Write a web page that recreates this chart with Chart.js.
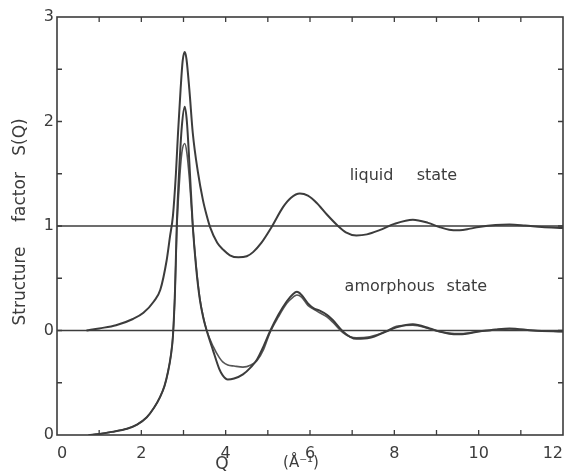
<!DOCTYPE html>
<html>
<head>
<meta charset="utf-8">
<script src="https://cdn.jsdelivr.net/npm/chart.js@4.4.1/dist/chart.umd.min.js"></script>
<style>
  html, body { margin: 0; padding: 0; background: #fff; }
  #wrap { width: 575px; height: 474px; }
</style>
</head>
<body>
<div id="wrap"><canvas id="sq"></canvas></div>
<script>
// S(Q) curves; liquid is shifted up by one unit on the plot
const liquidQ = [0.7, 1.0, 1.4, 1.8, 2.05, 2.3, 2.45, 2.6, 2.68, 2.75, 2.82, 2.87, 2.93, 2.98, 3.03, 3.07, 3.14, 3.22, 3.34, 3.46, 3.55, 3.63, 3.8, 3.95, 4.1, 4.3, 4.5, 4.65, 4.85, 5.09, 5.36, 5.55, 5.76, 5.95, 6.16, 6.4, 6.64, 6.85, 7.1, 7.35, 7.65, 8.0, 8.44, 8.8, 9.07, 9.3, 9.55, 9.8, 10.0, 10.4, 10.73, 11.1, 11.5, 12.0]
const liquidS = [1.0, 1.02, 1.05, 1.11, 1.17, 1.28, 1.39, 1.67, 1.9, 2.1, 2.5, 2.89, 3.3, 3.58, 3.665, 3.6, 3.3, 2.89, 2.52, 2.25, 2.1, 1.99, 1.84, 1.77, 1.72, 1.7, 1.71, 1.75, 1.84, 1.99, 2.18, 2.27, 2.31, 2.29, 2.22, 2.11, 2.01, 1.94, 1.91, 1.92, 1.96, 2.02, 2.06, 2.03, 1.99, 1.965, 1.96, 1.975, 1.99, 2.01, 2.015, 2.005, 1.99, 1.98]

const amorphQ = [0.75, 1.0, 1.3, 1.66, 1.9, 2.13, 2.3, 2.44, 2.55, 2.63, 2.7, 2.75, 2.8, 2.84, 2.9, 2.96, 3.03, 3.08, 3.14, 3.22, 3.3, 3.39, 3.47, 3.55, 3.7, 3.85, 3.93, 4.05, 4.2, 4.41, 4.6, 4.74, 4.9, 5.05, 5.25, 5.45, 5.6, 5.69, 5.8, 5.95, 6.1, 6.23, 6.4, 6.54, 6.78, 6.95, 7.1, 7.42, 7.8, 8.05, 8.44, 8.84, 9.07, 9.3, 9.55, 10.0, 10.4, 10.73, 11.3, 12.0]
const amorphS1 = [0.0, 0.01, 0.03, 0.06, 0.1, 0.17, 0.26, 0.36, 0.47, 0.6, 0.76, 0.95, 1.4, 2.0, 2.55, 2.95, 3.14, 3.0, 2.6, 2.0, 1.6, 1.29, 1.12, 1.0, 0.81, 0.63, 0.57, 0.53, 0.54, 0.58, 0.65, 0.72, 0.85, 0.99, 1.15, 1.28, 1.35, 1.37, 1.34, 1.26, 1.21, 1.19, 1.15, 1.1, 0.99, 0.94, 0.92, 0.93, 0.99, 1.03, 1.06, 1.02, 0.99, 0.97, 0.965, 0.99, 1.01, 1.02, 1.0, 0.99]
const amorphS2 = [0.0, 0.01, 0.03, 0.06, 0.1, 0.17, 0.26, 0.36, 0.47, 0.6, 0.76, 0.95, 1.38, 1.95, 2.4, 2.7, 2.79, 2.7, 2.45, 2.0, 1.62, 1.3, 1.13, 1.0, 0.85, 0.74, 0.7, 0.67, 0.66, 0.65, 0.67, 0.71, 0.82, 0.98, 1.13, 1.26, 1.32, 1.34, 1.32, 1.24, 1.2, 1.17, 1.13, 1.08, 0.98, 0.94, 0.93, 0.94, 0.99, 1.04, 1.05, 1.015, 0.99, 0.975, 0.97, 0.99, 1.005, 1.015, 1.0, 0.99]

const baseLines = [1, 2]
const yTickText = ['0', '0', '1', '2', '3']
const inkColor = '#3c3c3c'
const fontName = "'DejaVu Sans', sans-serif"

function pts(xs, ys) {
    return xs.map((x, i) => ({ x: x, y: ys[i] }))
}

// frame, inward ticks on all four sides, and the text inside the plot
const framePlugin = {
    id: 'frame',
    afterDatasetsDraw(chart) {
        const { ctx, chartArea: a, scales: { x, y } } = chart
        ctx.save()
        ctx.strokeStyle = inkColor
        ctx.lineWidth = 1.6
        ctx.strokeRect(a.left, a.top, a.right - a.left, a.bottom - a.top)
        ctx.lineWidth = 1.3
        ctx.beginPath()
        for (let q = 1; q < 12; q++) {
            let px = x.getPixelForValue(q)
            ctx.moveTo(px, a.bottom); ctx.lineTo(px, a.bottom - 5)
            ctx.moveTo(px, a.top); ctx.lineTo(px, a.top + 5)
        }
        for (let v = 0.5; v < 4; v += 0.5) {
            let py = y.getPixelForValue(v)
            ctx.moveTo(a.left, py); ctx.lineTo(a.left + 5, py)
            ctx.moveTo(a.right, py); ctx.lineTo(a.right - 5, py)
        }
        ctx.stroke()

        ctx.fillStyle = inkColor
        ctx.font = '16px ' + fontName
        ctx.textBaseline = 'middle'
        ctx.fillText('liquid', x.getPixelForValue(6.94), y.getPixelForValue(2.48))
        ctx.fillText('state', x.getPixelForValue(8.53), y.getPixelForValue(2.48))
        ctx.fillText('amorphous', x.getPixelForValue(6.82), y.getPixelForValue(1.42))
        ctx.fillText('state', x.getPixelForValue(9.24), y.getPixelForValue(1.42))

        // axis titles
        ctx.textAlign = 'center'
        ctx.font = '17px ' + fontName
        ctx.fillText('Q', 222, 465)
        ctx.font = '15px ' + fontName
        ctx.fillText('(Å⁻¹)', 301, 463)
        ctx.font = '17px ' + fontName
        ctx.translate(21, 0)
        ctx.rotate(-Math.PI / 2)
        ctx.fillText('Structure', -286, 0)
        ctx.fillText('factor', -197, 0)
        ctx.fillText('S(Q)', -137, 0)
        ctx.restore()
    }
}

const lineStyle = {
    type: 'line',
    pointRadius: 0,
    borderColor: inkColor,
    borderWidth: 2,
    fill: false,
    cubicInterpolationMode: 'monotone'
}

const datasets = [
    Object.assign({ data: pts(liquidQ, liquidS) }, lineStyle),
    Object.assign({ data: pts(amorphQ, amorphS1) }, lineStyle),
    Object.assign({ data: pts(amorphQ, amorphS2) }, lineStyle, { borderWidth: 1.6, borderColor: '#555' })
]
baseLines.forEach(b => {
    datasets.push({
        type: 'line',
        data: [{ x: 0, y: b }, { x: 12, y: b }],
        pointRadius: 0,
        borderColor: inkColor,
        borderWidth: 1.4
    })
})

const ctx = document.getElementById('sq').getContext('2d')
const chart = new Chart(ctx, {
    type: 'line',
    data: { datasets: datasets },
    plugins: [framePlugin],
    options: {
        responsive: true,
        maintainAspectRatio: false,
        animation: false,
        layout: { padding: { top: 17, right: 12, left: 0, bottom: 0 } },
        plugins: { legend: { display: false }, tooltip: { enabled: false } },
        scales: {
            x: {
                type: 'linear',
                min: 0,
                max: 12,
                grid: { display: false, drawTicks: false },
                border: { display: false },
                ticks: {
                    stepSize: 1,
                    autoSkip: false,
                    maxRotation: 0,
                    align: 'inner',
                    padding: 9,
                    color: inkColor,
                    font: { family: fontName, size: 16 },
                    callback: v => (v % 2 === 0 ? String(v) : '')
                },
                afterFit: s => { s.height = 39; s.paddingLeft = 0; s.paddingRight = 0 }
            },
            y: {
                type: 'linear',
                min: 0,
                max: 4,
                grid: { display: false, drawTicks: false },
                border: { display: false },
                ticks: {
                    stepSize: 1,
                    padding: 3,
                    color: inkColor,
                    font: { family: fontName, size: 16 },
                    callback: v => yTickText[v]
                },
                afterFit: s => { s.width = 57; s.paddingTop = 0; s.paddingBottom = 0 }
            }
        }
    }
})
</script>
</body>
</html>
